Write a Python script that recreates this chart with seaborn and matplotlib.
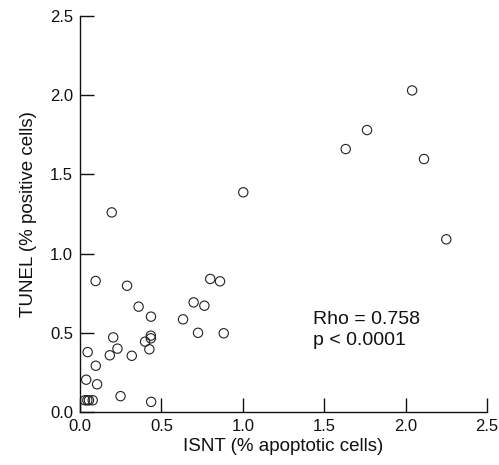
import matplotlib
matplotlib.use("Agg")
import matplotlib.pyplot as plt
import seaborn as sns
import pandas as pd

isnt = [0.195, 1.003, 2.04, 1.763, 1.632, 2.113, 2.25,
        0.096, 0.289, 0.36, 0.436, 0.633, 0.698, 0.764, 0.80, 0.86, 0.725, 0.883,
        0.204, 0.23, 0.183, 0.318, 0.40, 0.435, 0.435, 0.426,
        0.047, 0.097, 0.038, 0.105, 0.249, 0.437,
        0.03, 0.045, 0.055, 0.078]
tunel = [1.26, 1.387, 2.03, 1.78, 1.66, 1.597, 1.09,
         0.827, 0.797, 0.665, 0.602, 0.585, 0.692, 0.671, 0.84, 0.825, 0.50, 0.497,
         0.471, 0.40, 0.358, 0.355, 0.444, 0.482, 0.465, 0.396,
         0.378, 0.292, 0.204, 0.175, 0.10, 0.064,
         0.074, 0.074, 0.074, 0.074]
ticks = [0.0, 0.5, 1.0, 1.5, 2.0, 2.5]
tick_labels = ["0.0", "0.5", "1.0", "1.5", "2.0", "2.5"]
stats_text = "Rho = 0.758\np < 0.0001"

sns.set_style("white")
plt.rcParams['font.family'] = ['Liberation Sans', 'DejaVu Sans']

df = pd.DataFrame({"ISNT": isnt, "TUNEL": tunel})

fig = plt.figure(figsize=(4.99, 4.65), dpi=100)
ax = fig.add_axes([80/499, 1-412/465, (487-80)/499, (412-16)/465])

sns.scatterplot(data=df, x="ISNT", y="TUNEL", ax=ax, marker="o", s=45,
                facecolor="none", edgecolor="#222222", linewidth=0.8)

ax.set_xlim(0, 2.5)
ax.set_ylim(0, 2.5)
ax.set_xticks(ticks)
ax.set_xticklabels(tick_labels)
ax.set_yticks(ticks)
ax.set_yticklabels(tick_labels)
ax.tick_params(bottom=True, left=True, direction="in", length=10, width=1.0,
               labelsize=12, colors="#111111", pad=5)
for s in ["top", "right"]:
    ax.spines[s].set_visible(False)
for s in ["left", "bottom"]:
    ax.spines[s].set_color("#111111")
    ax.spines[s].set_linewidth(1.0)

ax.set_xlabel("ISNT (% apoptotic cells)", fontsize=13.5, color="#111111", labelpad=3)
ax.set_ylabel("TUNEL (% positive cells)", fontsize=13.5, color="#111111", labelpad=9)

ax.text(1.43, 0.518, stats_text, fontsize=14, color="#111111", va="center", ha="left",
        linespacing=1.35)

fig.savefig("out.png", dpi=100)
